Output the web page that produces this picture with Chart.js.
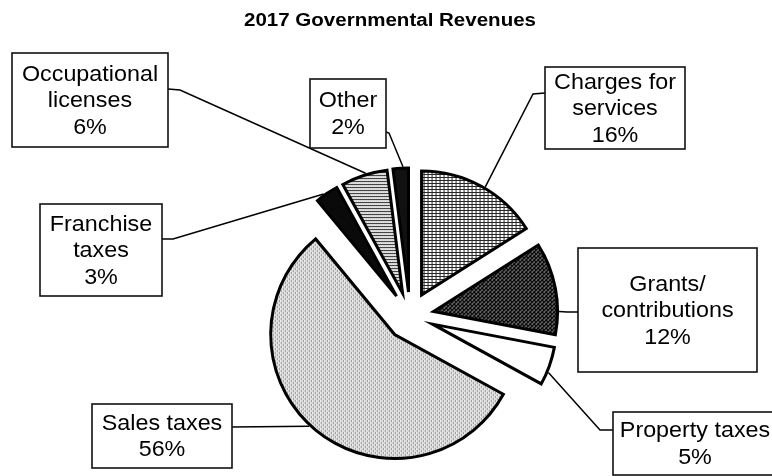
<!DOCTYPE html>
<html>
<head>
<meta charset="utf-8">
<title>2017 Governmental Revenues</title>
<script src="https://cdn.jsdelivr.net/npm/chart.js@4.4.1/dist/chart.umd.min.js"></script>
<style>
  html, body { margin: 0; padding: 0; background: #ffffff; }
  canvas { display: block; }
</style>
</head>
<body>
<canvas id="revenueChart" width="772" height="476"></canvas>
<script>
// ---- data ----
const chartTitle = '2017 Governmental Revenues';
const categories = ['Charges for services', 'Grants/contributions', 'Property taxes', 'Sales taxes',
                    'Franchise taxes', 'Occupational licenses', 'Other'];
const shares = [16, 12, 5, 56, 3, 6, 2];
const labelLines = [['Charges for', 'services'], ['Grants/', 'contributions'], ['Property taxes'],
                    ['Sales taxes'], ['Franchise', 'taxes'], ['Occupational', 'licenses'], ['Other']];

// ---- fills: small repeating tiles that imitate print shading ----
function tile(w, h, bg, marks) {
  const c = document.createElement('canvas');
  c.width = w; c.height = h;
  const g = c.getContext('2d');
  g.fillStyle = bg;
  g.fillRect(0, 0, w, h);
  marks.forEach(([x, y, col, mw, mh]) => { g.fillStyle = col; g.fillRect(x, y, mw || 1, mh || 1); });
  return g.createPattern(c, 'repeat');
}
const gridFill   = tile(4, 3, '#ffffff', [[0, 0, '#262626', 4, 1], [0, 0, '#262626', 1, 3]]);
const darkDots   = tile(4, 4, '#0c0c0c', [[0, 0, '#ffffff'], [2, 2, '#e8e8e8'], [1, 3, '#7a7a7a']]);
const lightDots  = tile(4, 4, '#f3f3f3', [[0, 0, '#222222'], [2, 2, '#222222'], [2, 0, '#a8a8a8'], [0, 2, '#a8a8a8']]);
const stripeFill = tile(2, 3, '#ffffff', [[0, 0, '#222222', 2, 1], [1, 2, '#b0b0b0']]);
const sliceFills = [gridFill, darkDots, '#ffffff', lightDots, '#0a0a0a', stripeFill, '#111111'];

// ---- label boxes and leader routing ----
const boxLayout = [
  { x1: 545, y1: 67,  x2: 685, y2: 149, anchor: [545, 93],  elbow: [533, 94],  frac: 0.53 },
  { x1: 578, y1: 248, x2: 757, y2: 372, anchor: [578, 312], elbow: [567, 312], frac: 0.75 },
  { x1: 613, y1: 412, x2: 777, y2: 475, anchor: [613, 430], elbow: [600, 430], frac: 0.66 },
  { x1: 92,  y1: 404, x2: 232, y2: 468, anchor: [232, 427], elbow: null,       frac: 0.517 },
  { x1: 40,  y1: 204, x2: 162, y2: 296, anchor: [162, 239], elbow: [173, 239], frac: 0.38 },
  { x1: 12,  y1: 53,  x2: 168, y2: 147, anchor: [168, 89],  elbow: [180, 90],  frac: 0.54 },
  { x1: 310, y1: 79,  x2: 386, y2: 148, anchor: [386, 132], elbow: [389, 133], frac: 0.65 }
];
const EXPLODE = 24;      // px each wedge is pulled out from the centre
const LABEL_FONT = '22px "Liberation Sans", Arial, sans-serif';
const LINE_STEP = 26.5;

function sliceShift(arc) {
  const mid = (arc.startAngle + arc.endAngle) / 2;
  return [Math.cos(mid) * EXPLODE, Math.sin(mid) * EXPLODE];
}

// draws every wedge moved outward along its bisector
const explodePlugin = {
  id: 'explodeWedges',
  beforeDatasetDraw(chart, args) {
    const ctx = chart.ctx;
    args.meta.data.forEach(arc => {
      const [dx, dy] = sliceShift(arc);
      ctx.save();
      ctx.translate(dx, dy);
      arc.draw(ctx);
      ctx.restore();
    });
    return false;
  }
};

function stretchedText(ctx, text, x, y, sx) {
  ctx.save();
  ctx.translate(x, y);
  ctx.scale(sx, 1);
  ctx.fillText(text, 0, 0);
  ctx.restore();
}

// title, callout boxes and leader lines
const calloutPlugin = {
  id: 'callouts',
  afterDraw(chart) {
    const ctx = chart.ctx;
    const arcs = chart.getDatasetMeta(0).data;
    ctx.save();
    ctx.fillStyle = '#000';
    ctx.textAlign = 'center';
    ctx.textBaseline = 'middle';
    ctx.font = 'bold 18px "Liberation Sans", Arial, sans-serif';
    stretchedText(ctx, chartTitle, 390, 21, 1.14);

    arcs.forEach((arc, i) => {
      const b = boxLayout[i];
      const [dx, dy] = sliceShift(arc);
      const a = arc.startAngle + b.frac * (arc.endAngle - arc.startAngle);
      const r = arc.outerRadius + 1.5;
      const ex = arc.x + dx + Math.cos(a) * r;
      const ey = arc.y + dy + Math.sin(a) * r;

      ctx.strokeStyle = '#000';
      ctx.lineWidth = 1.5;
      ctx.beginPath();
      ctx.moveTo(b.anchor[0], b.anchor[1]);
      if (b.elbow) ctx.lineTo(b.elbow[0], b.elbow[1]);
      ctx.lineTo(ex, ey);
      ctx.stroke();

      ctx.fillStyle = '#fff';
      ctx.fillRect(b.x1, b.y1, b.x2 - b.x1, b.y2 - b.y1);
      ctx.lineWidth = 1.6;
      ctx.strokeStyle = '#111';
      ctx.strokeRect(b.x1, b.y1, b.x2 - b.x1, b.y2 - b.y1);

      const lines = labelLines[i].concat([shares[i] + '%']);
      const cx = (b.x1 + b.x2) / 2;
      const cy = (b.y1 + b.y2) / 2;
      ctx.fillStyle = '#000';
      ctx.font = LABEL_FONT;
      lines.forEach((t, k) => {
        const y = cy + (k - (lines.length - 1) / 2) * LINE_STEP + 1;
        stretchedText(ctx, t, cx, y, 1.06);
      });
    });
    ctx.restore();
  }
};

new Chart(document.getElementById('revenueChart'), {
  type: 'pie',
  data: {
    labels: categories,
    datasets: [{
      data: shares,
      backgroundColor: sliceFills,
      borderColor: '#000000',
      borderWidth: 3,
      borderJoinStyle: 'miter',
      radius: 124
    }]
  },
  options: {
    responsive: false,
    animation: false,
    events: [],
    layout: { padding: { left: 48, right: 0, top: 156, bottom: 0 } },
    plugins: {
      legend: { display: false },
      title: { display: false },
      tooltip: { enabled: false }
    }
  },
  plugins: [explodePlugin, calloutPlugin]
});
</script>
</body>
</html>
